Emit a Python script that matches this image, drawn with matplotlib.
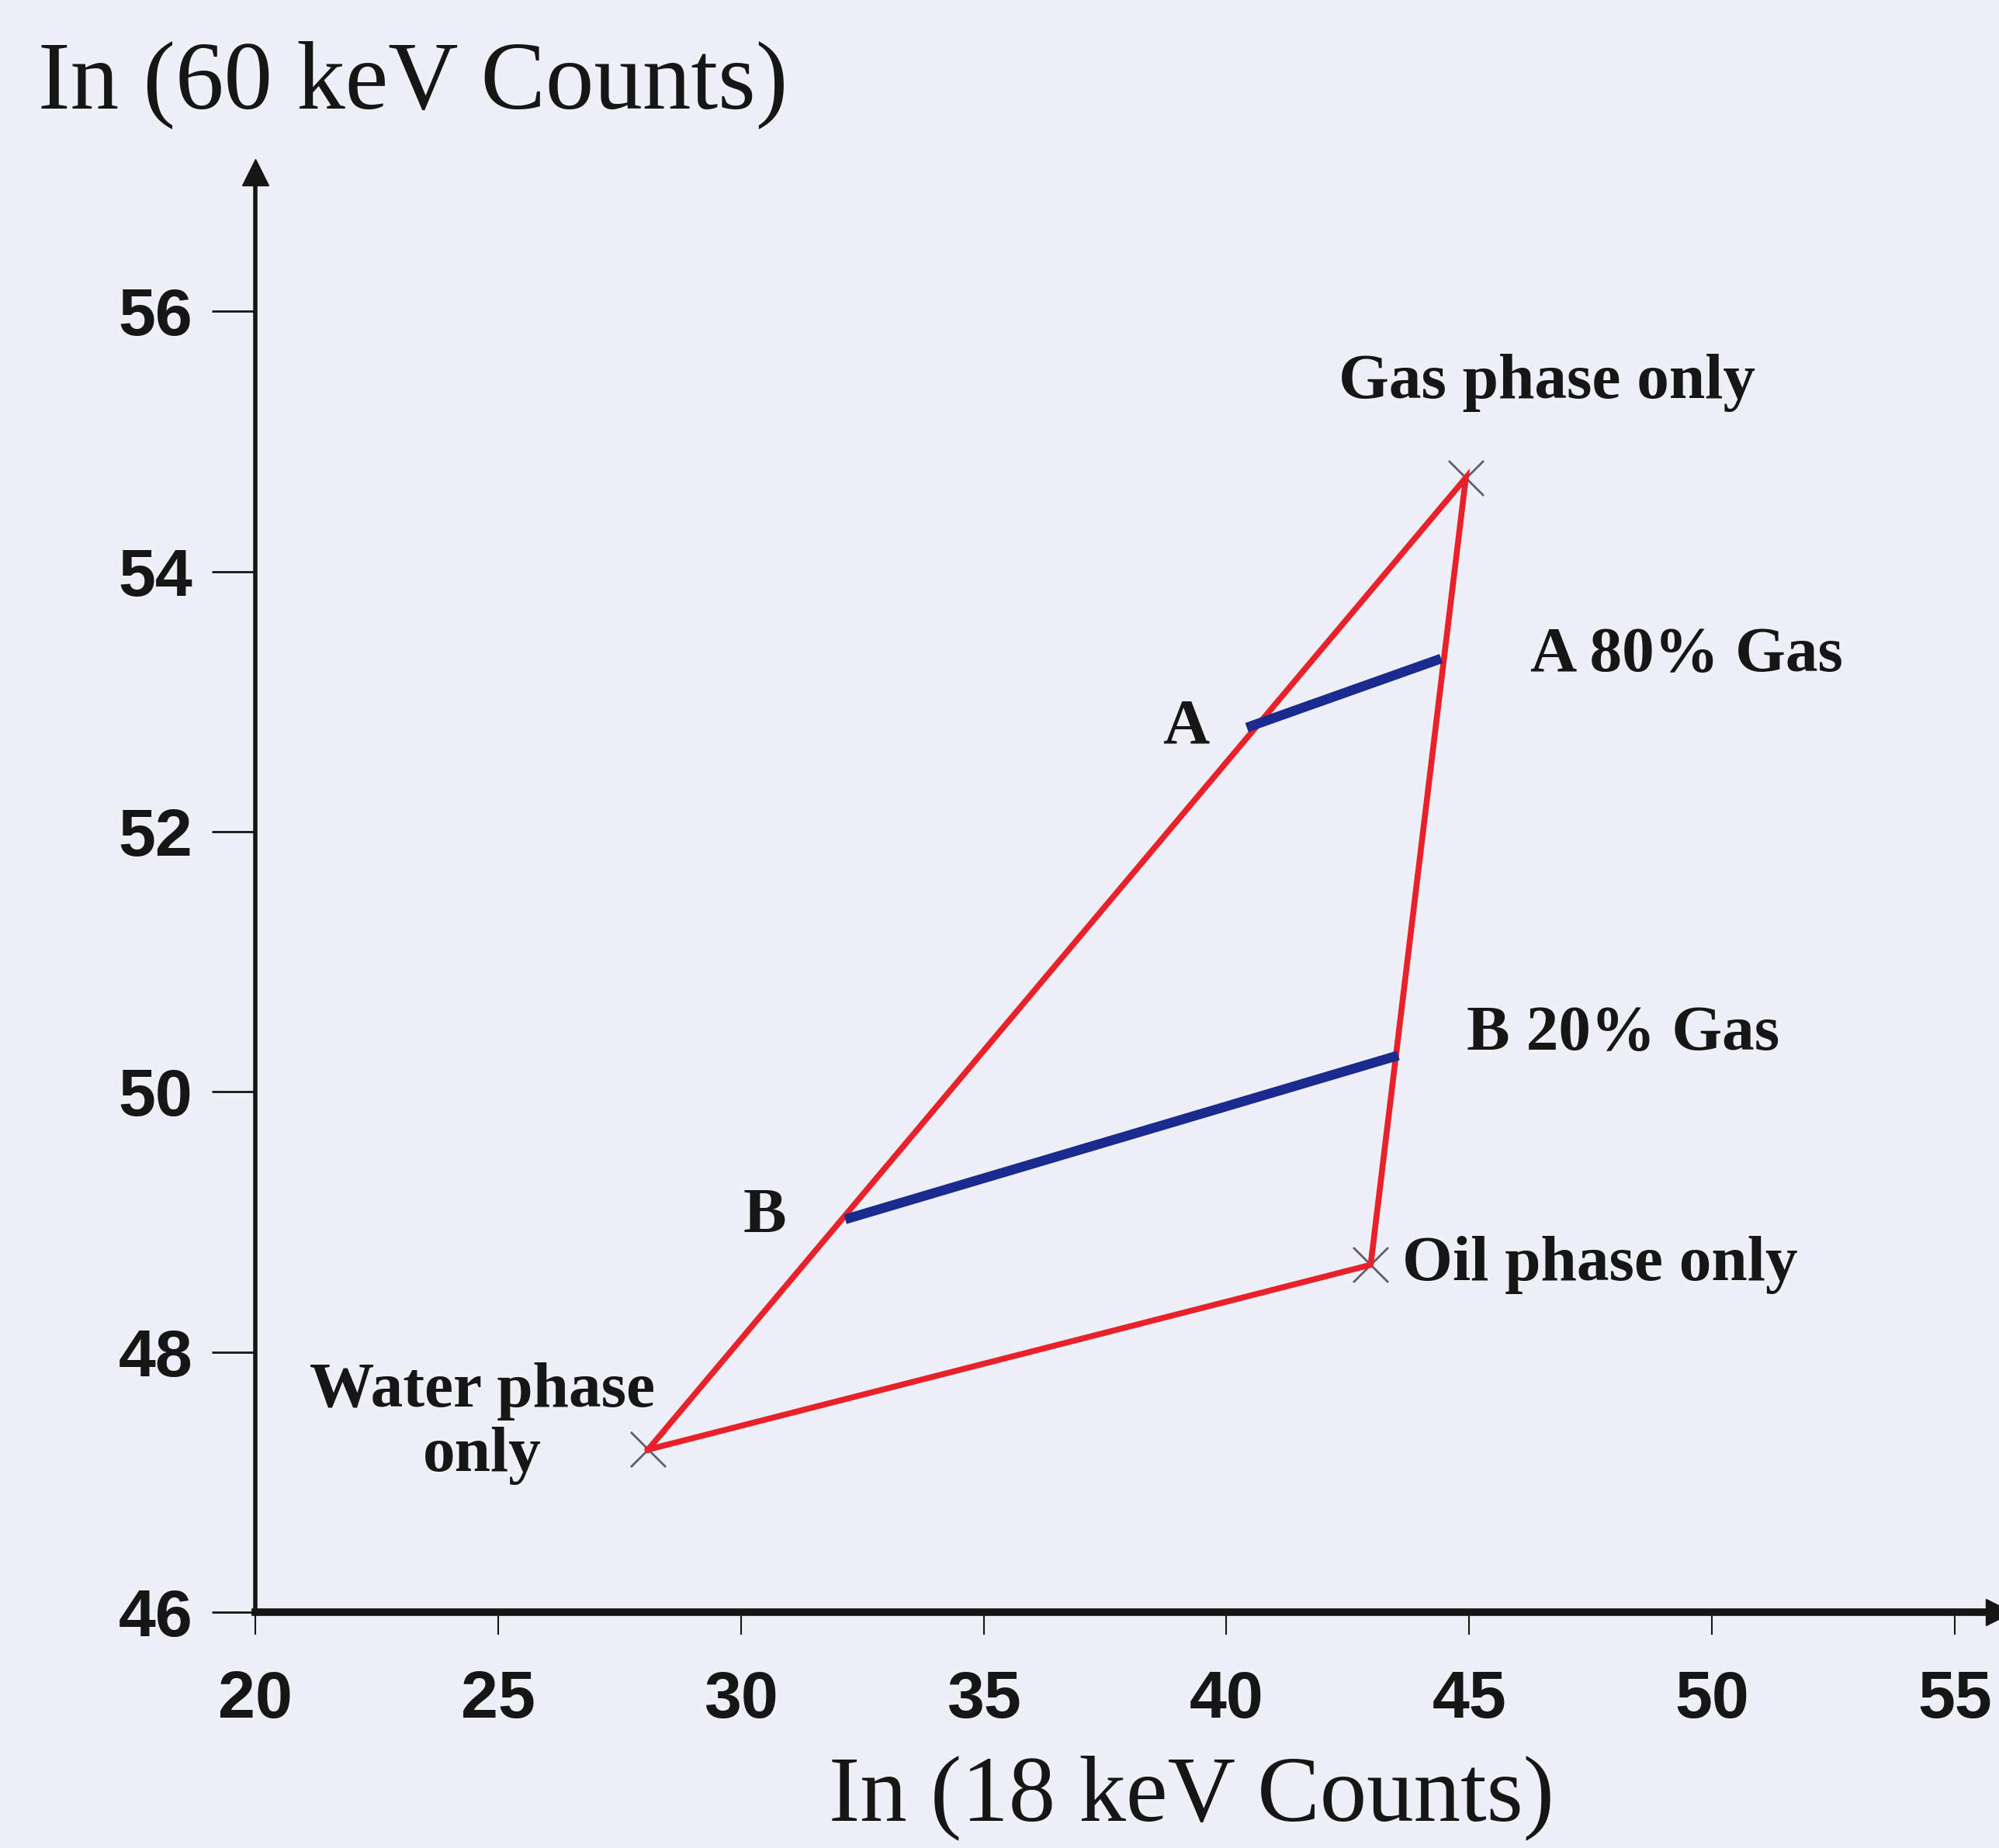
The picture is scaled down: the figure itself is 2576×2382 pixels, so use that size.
import matplotlib.pyplot as plt

# corner points (x = ln 18 keV counts, y = ln 60 keV counts)
phase_names = ['Water', 'Gas', 'Oil']
phase_x = [28.09, 44.93, 42.97]
phase_y = [47.25, 54.72, 48.67]

# iso-gas-fraction lines
line_a_x = [40.42, 44.42]
line_a_y = [52.80, 53.33]
line_b_x = [32.15, 43.54]
line_b_y = [49.02, 50.28]

x_ticks = [20, 25, 30, 35, 40, 45, 50, 55]
y_ticks = [46, 48, 50, 52, 54, 56]

bg = '#eef0f7'
ink = '#161616'
serif = 'Liberation Serif'
sans = 'Liberation Sans'

fig = plt.figure(figsize=(25.76, 23.82), dpi=100, facecolor=bg)
ax = fig.add_axes([0.1277, 0.1276, 0.8723, 0.7793])
ax.set_facecolor(bg)

# phase markers
ax.scatter(phase_x, phase_y, marker='x', s=1050, color='#5e5e70', linewidths=2, zorder=1)

# red triangle water -> gas -> oil -> water
tri_x = phase_x + [phase_x[0]]
tri_y = phase_y + [phase_y[0]]
ax.plot(tri_x, tri_y, color='#e8212b', lw=5.5, solid_joinstyle='miter', zorder=2)

# blue lines
ax.plot(line_a_x, line_a_y, color='#1b2a8f', lw=9, solid_capstyle='butt', zorder=3)
ax.plot(line_b_x, line_b_y, color='#1b2a8f', lw=9, solid_capstyle='butt', zorder=3)

ax.set_xlim(20, 55.91)
ax.set_ylim(46, 57.07)

for s in ['top', 'right']:
    ax.spines[s].set_visible(False)
ax.spines['left'].set_linewidth(4)
ax.spines['left'].set_color(ink)
ax.spines['bottom'].set_linewidth(7)
ax.spines['bottom'].set_color(ink)

# arrow heads on the axes
ax.plot(0, 1, marker='^', ms=24, color=ink, transform=ax.transAxes, clip_on=False)
ax.plot(1, 0, marker='>', ms=24, color=ink, transform=ax.transAxes, clip_on=False)

ax.set_xticks(x_ticks)
ax.set_xticklabels([str(t) for t in x_ticks], fontweight='bold', fontfamily=sans)
ax.set_yticks(y_ticks)
ax.set_yticklabels([str(t) for t in y_ticks], fontweight='bold', fontfamily=sans)
ax.tick_params(axis='x', direction='out', length=21, width=1.5, pad=32,
               labelsize=62, color=ink, labelcolor=ink)
ax.tick_params(axis='y', direction='out', length=40, width=2, pad=18,
               labelsize=62, color=ink, labelcolor=ink)

# annotations
tk = dict(fontfamily=serif, fontweight='bold', fontsize=60, color=ink, va='center')
ax.text(42.31, 55.45, 'Gas phase only', ha='left', **tk)
ax.text(46.26, 53.35, 'A 80% Gas', ha='left', **tk)
ax.text(38.68, 52.80, 'A', ha='left', **tk)
ax.text(44.95, 50.44, 'B 20% Gas', ha='left', **tk)
ax.text(30.05, 49.04, 'B', ha='left', **tk)
ax.text(43.62, 48.67, 'Oil phase only', ha='left', **tk)
ax.text(24.67, 47.45, 'Water phase\nonly', ha='center', multialignment='center',
        linespacing=1.15, **tk)

# axis titles
fig.text(0.019, 0.954, 'In (60 keV Counts)', fontfamily=serif, fontsize=90,
         color=ink, ha='left', va='center')
fig.text(0.596, 0.027, 'In (18 keV Counts)', fontfamily=serif, fontsize=87,
         color=ink, ha='center', va='center')

fig.savefig('out.png', dpi=100, facecolor=bg)
